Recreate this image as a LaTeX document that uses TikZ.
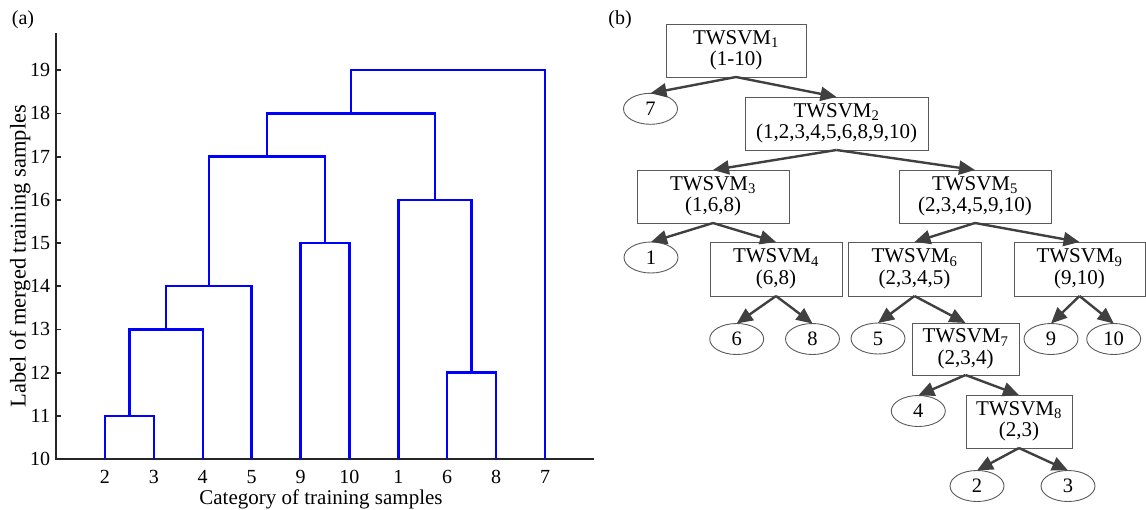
\documentclass[tikz,border=0pt]{standalone}
\usepackage{fontspec}
\setmainfont{Liberation Serif}
\usetikzlibrary{arrows.meta,shapes.geometric}

\definecolor{axiscol}{HTML}{262626}
\definecolor{arrowcol}{HTML}{404040}
\definecolor{edgecol}{HTML}{5A5A5A}

\begin{document}
\begin{tikzpicture}[x=1pt,y=-1pt,
  every node/.style={inner sep=0pt,outer sep=0pt},
  txt/.style={font=\fontsize{20}{22}\selectfont},
  axisline/.style={line width=1.8pt,draw=axiscol},
  dendro/.style={line width=2.4pt,draw=blue,line join=miter},
  twbox/.style={draw=edgecol,line width=1pt,rectangle,align=center,
    font=\fontsize{21}{21.5}\selectfont},
  leaf/.style={draw=edgecol,line width=0.9pt,ellipse,minimum width=54pt,
    minimum height=31pt,font=\fontsize{20.5}{22}\selectfont},
  conn/.style={-{Triangle[length=16pt,width=14pt]},line width=2.4pt,draw=arrowcol}]
\useasboundingbox (0,0) rectangle (1146,509);

% ---------- (a) dendrogram ----------
\node[txt] (lblA) at (23,20) {(a)};

\begin{scope}[shift={(56pt,-459pt)},x=48.9pt,y=43.2pt]
  % axes
  \draw[axisline] (0,9.85) -- (0,0) -- (11,0);
  \foreach \v in {0,...,9} \draw[axisline] (0,\v) -- ++(5pt,0);
  \foreach \v [evaluate=\v as \lab using int(\v+10)] in {0,...,9}
    \node[txt,anchor=east] (yt\v) at ([xshift=-6pt]0,\v) {\lab};
  \foreach \k/\c in {1/2,2/3,3/4,4/5,5/9,6/10,7/1,8/6,9/8,10/7} {
    \draw[axisline] (\k,0) -- ++(0,5pt);
    \node[txt,anchor=base] (xt\k) at ([yshift=-24pt]\k,0) {\c};
  }
  % merges
  \draw[dendro] (1,0) -- (1,1) -- (2,1) -- (2,0);
  \draw[dendro] (1.5,1) -- (1.5,3) -- (3,3) -- (3,0);
  \draw[dendro] (2.25,3) -- (2.25,4) -- (4,4) -- (4,0);
  \draw[dendro] (5,0) -- (5,5) -- (6,5) -- (6,0);
  \draw[dendro] (8,0) -- (8,2) -- (9,2) -- (9,0);
  \draw[dendro] (7,0) -- (7,6) -- (8.5,6) -- (8.5,2);
  \draw[dendro] (3.125,4) -- (3.125,7) -- (5.5,7) -- (5.5,5);
  \draw[dendro] (4.3125,7) -- (4.3125,8) -- (7.75,8) -- (7.75,6);
  \draw[dendro] (6.03125,8) -- (6.03125,9) -- (10,9) -- (10,0);
\end{scope}

\node[font=\fontsize{22.5}{23}\selectfont,anchor=base,rotate=90] (ylab) at (25.5,256)
  {Label of merged training samples};
\node[font=\fontsize{21}{22}\selectfont,anchor=base] (xlab) at (321,504)
  {Category of training samples};

% ---------- (b) tree of TWSVM classifiers ----------
\node[txt] (lblB) at (620,20) {(b)};

\node[twbox,minimum width=140pt,minimum height=53pt] (t1) at (736,50.5) {TWSVM\textsubscript{1}\\(1-10)};
\node[twbox,minimum width=183pt,minimum height=53pt] (t2) at (836.5,123.5) {TWSVM\textsubscript{2}\\(1,2,3,4,5,6,8,9,10)};
\node[twbox,minimum width=152pt,minimum height=53pt] (t3) at (713,196.5) {TWSVM\textsubscript{3}\\(1,6,8)};
\node[twbox,minimum width=152pt,minimum height=53pt] (t5) at (975,196.5) {TWSVM\textsubscript{5}\\(2,3,4,5,9,10)};
\node[twbox,minimum width=132pt,minimum height=54pt] (t4) at (776,269) {TWSVM\textsubscript{4}\\(6,8)};
\node[twbox,minimum width=133pt,minimum height=54pt] (t6) at (914.5,269) {TWSVM\textsubscript{6}\\(2,3,4,5)};
\node[twbox,minimum width=131pt,minimum height=54pt] (t9) at (1079.5,269) {TWSVM\textsubscript{9}\\(9,10)};
\node[twbox,minimum width=107pt,minimum height=52pt] (t7) at (965.5,349) {TWSVM\textsubscript{7}\\(2,3,4)};
\node[twbox,minimum width=106pt,minimum height=53pt] (t8) at (1019,421.5) {TWSVM\textsubscript{8}\\(2,3)};

\node[leaf] (c7) at (650.5,108.8) {7};
\node[leaf] (c1) at (651,257.5) {1};
\node[leaf] (c6) at (736.7,339) {6};
\node[leaf] (c8) at (812.5,339) {8};
\node[leaf] (c5) at (878,338.5) {5};
\node[leaf] (c9) at (1051,339) {9};
\node[leaf] (c10) at (1113.7,339) {10};
\node[leaf] (c4) at (918.3,411) {4};
\node[leaf] (c2) at (977,486) {2};
\node[leaf] (c3) at (1068,486) {3};

\draw[conn] (t1.south) -- (c7.north);
\draw[conn] (t1.south) -- (t2.north);
\draw[conn] (t2.south) -- (t3.north);
\draw[conn] (t2.south) -- (t5.north);
\draw[conn] (t3.south) -- (c1.north);
\draw[conn] (t3.south) -- (t4.north);
\draw[conn] (t5.south) -- (t6.north);
\draw[conn] (t5.south) -- (t9.north);
\draw[conn] (t4.south) -- (c6.north);
\draw[conn] (t4.south) -- (c8.north);
\draw[conn] (t6.south) -- (c5.north);
\draw[conn] (t6.south) -- (t7.north);
\draw[conn] (t9.south) -- (c9.north);
\draw[conn] (t9.south) -- (c10.north);
\draw[conn] (t7.south) -- (c4.north);
\draw[conn] (t7.south) -- (t8.north);
\draw[conn] (t8.south) -- (c2.north);
\draw[conn] (t8.south) -- (c3.north);
\end{tikzpicture}
\end{document}
